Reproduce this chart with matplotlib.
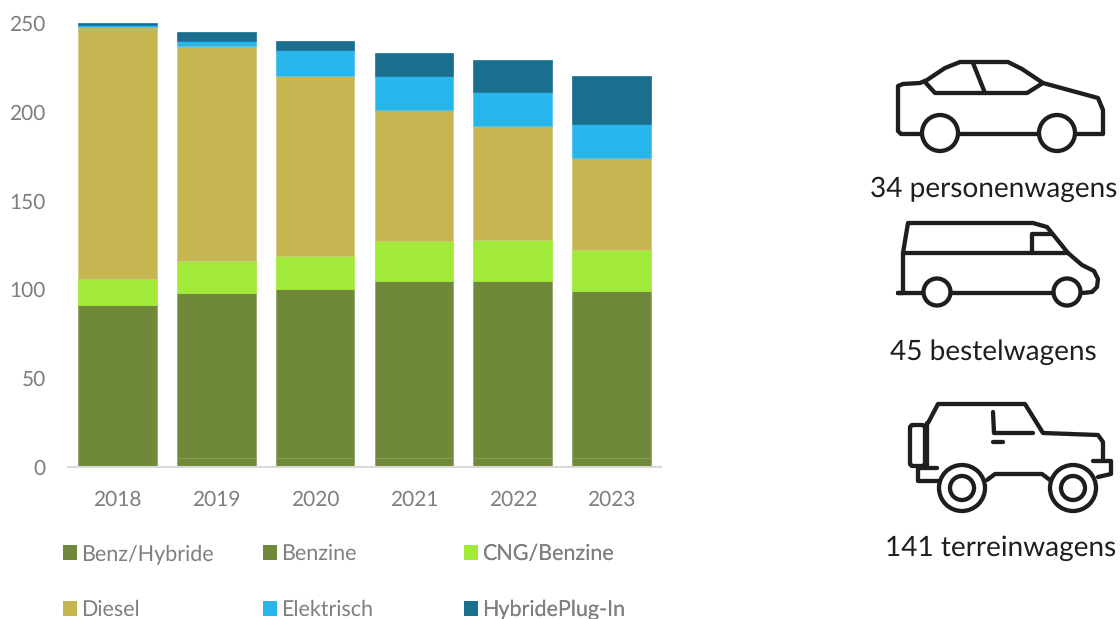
import numpy as np
import matplotlib
matplotlib.use("Agg")
import matplotlib.pyplot as plt
from matplotlib.patches import Circle, FancyBboxPatch, Patch

W, H = 1120, 619

years = ["2018", "2019", "2020", "2021", "2022", "2023"]
benz_hybride = [0, 5, 5, 5, 5, 5]
benzine = [91, 93, 95, 100, 100, 94]
cng_benzine = [15, 18, 19, 22, 23, 23]
diesel = [142, 121, 101, 74, 64, 52]
elektrisch = [1, 3, 15, 19, 19, 19]
hybride_plugin = [1, 5, 5, 13, 18, 27]

series_names = ["Benz/Hybride", "Benzine", "CNG/Benzine", "Diesel", "Elektrisch", "HybridePlug-In"]
series_values = [benz_hybride, benzine, cng_benzine, diesel, elektrisch, hybride_plugin]
series_colors = ["#70883a", "#70883a", "#a2ea3a", "#c5b651", "#27b5ec", "#1a6e8e"]
edge_colors = ["#8ba35e", "#8ba35e", "#a2ea3a", "#d3c87e", "#4fc0ec", "#1a6e8e"]

y_ticks = [0, 50, 100, 150, 200, 250]

vehicle_labels = ["34 personenwagens", "45 bestelwagens", "141 terreinwagens"]

TICK_GREY = "#7f7f7f"
INK = "#1e1e1e"

plt.rcParams["font.family"] = ["Lato", "DejaVu Sans"]
plt.rcParams["text.hinting"] = "none"

fig = plt.figure(figsize=(W / 100, H / 100), dpi=100)

# Stacked bars, axes placed in pixel terms
left, right, top, bottom = 68, 661, 23, 467
ax = fig.add_axes([left / W, 1 - bottom / H, (right - left) / W, (bottom - top) / H])

x = np.arange(len(years))
base = np.zeros(len(years))
for values, color, edge in zip(series_values, series_colors, edge_colors):
    ax.bar(x, values, bottom=base, width=0.795, color=color, edgecolor=edge, linewidth=0.5)
    base += np.array(values)

ax.set_xlim(-0.5, 5.5)
ax.set_ylim(0, 250)
ax.set_xticks(x)
ax.set_xticklabels(years)
ax.set_yticks(y_ticks)
ax.tick_params(axis="x", length=0, labelsize=15, labelcolor=TICK_GREY, pad=17)
ax.tick_params(axis="y", length=0, labelsize=15, labelcolor=TICK_GREY, pad=16)
for name in ["top", "left", "right"]:
    ax.spines[name].set_visible(False)
ax.spines["bottom"].set_color("#d9d9d9")
ax.spines["bottom"].set_linewidth(1.5)

# One legend per column so the three columns sit on a fixed pitch
handles = [Patch(facecolor=c, edgecolor="none", label=n) for c, n in zip(series_colors, series_names)]
for col, px in enumerate([63, 263, 464]):
    leg = ax.legend(
        handles=[handles[col], handles[col + 3]],
        loc="upper left",
        bbox_to_anchor=(px / W, 1 - 544 / H),
        bbox_transform=fig.transFigure,
        frameon=False,
        fontsize=15.5,
        labelcolor=TICK_GREY,
        labelspacing=1.67,
        handlelength=0.66,
        handleheight=0.66,
        handletextpad=0.2,
        borderpad=0,
        borderaxespad=0,
    )
    ax.add_artist(leg)

# Overlay in pixel coordinates for the vehicle icons
ov = fig.add_axes([0, 0, 1, 1], facecolor="none")
ov.set_xlim(0, W)
ov.set_ylim(H, 0)
ov.axis("off")

LW = 3.1


def stroke(points):
    xs, ys = zip(*points)
    ov.plot(xs, ys, color=INK, lw=LW, solid_capstyle="round", solid_joinstyle="round", zorder=2)


def wheel(cx, cy, r, inner=None):
    ov.add_patch(Circle((cx, cy), r, facecolor="white", edgecolor=INK, lw=LW, zorder=3))
    if inner:
        ov.add_patch(Circle((cx, cy), inner, facecolor="white", edgecolor=INK, lw=LW, zorder=4))


# Passenger car
stroke([(922, 134), (901, 134), (898, 131), (898, 86), (903, 84), (920, 83), (927, 80),
        (945, 68), (960, 62), (1008, 62), (1022, 69), (1043, 83), (1098, 98), (1103, 110),
        (1103, 134), (1077, 134)])
stroke([(960, 134), (1038, 134)])
stroke([(925, 82), (935, 93), (1027, 93), (1043, 83)])
stroke([(973, 63), (985, 93)])
wheel(940, 133, 18)
wheel(1057, 133, 18)

# Van
stroke([(923, 293), (898, 293), (903, 293), (903, 253), (908, 223), (1033, 223), (1047, 227),
        (1068, 253), (1082, 265), (1094, 271), (1098, 279), (1097, 287), (1092, 292), (1082, 293)])
stroke([(952, 293), (1053, 293)])
stroke([(903, 253), (1068, 253)])
stroke([(1032, 253), (1032, 234), (1052, 234)])
wheel(937, 292, 13.5)
wheel(1067, 292, 13.5)

# Off-road vehicle
stroke([(928, 423), (938, 404), (1025, 404), (1043, 433), (1098, 435), (1103, 442), (1103, 460)])
stroke([(927, 423), (927, 467)])
ov.add_patch(FancyBboxPatch((910, 425), 15, 41, boxstyle="round,pad=0,rounding_size=3",
                            facecolor="white", edgecolor=INK, lw=LW, zorder=2))
stroke([(918, 468), (937, 468)])
stroke([(918, 468), (918, 481), (940, 481)])
stroke([(1093, 461), (1111, 461), (1111, 474), (1098, 477)])
stroke([(987, 480), (995, 474), (1042, 474), (1050, 480)])
stroke([(993, 412), (994, 433), (1033, 433)])
stroke([(993, 442), (1003, 442)])
wheel(962, 488, 23, 12)
wheel(1073, 488, 23, 12)

for label, cx, cy in zip(vehicle_labels, [994, 993.5, 1001], [189.5, 352, 548.5]):
    ov.text(cx, cy, label, ha="center", va="center", fontsize=20.2, color=INK)

fig.savefig("out.png", dpi=100)
